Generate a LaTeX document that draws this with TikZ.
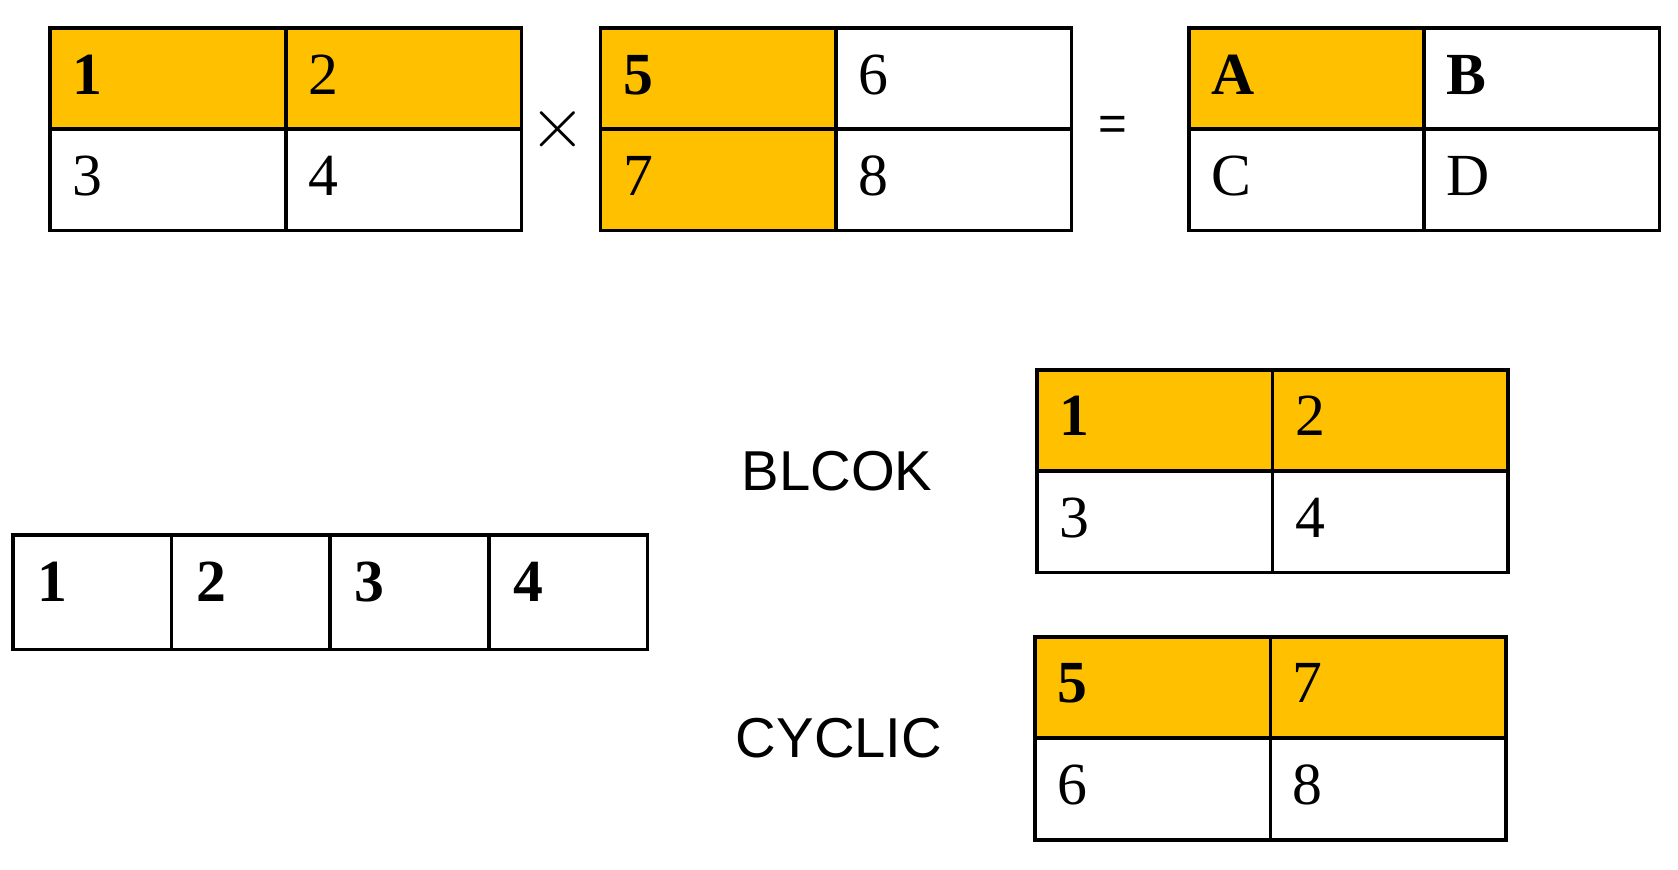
\documentclass[tikz,border=0pt]{standalone}
\usepackage{fontspec}
\setmainfont{Liberation Serif}
\newfontfamily\labelsans{Liberation Sans}
\definecolor{cellorange}{HTML}{FFC000}
\begin{document}
\begin{tikzpicture}[
  cellbox/.style={draw=black, line width=1pt, inner sep=0pt, outer sep=0pt,
    minimum width=2.355cm, minimum height=1.012cm},
  rowbox/.style={draw=black, line width=1pt, inner sep=0pt, outer sep=0pt,
    minimum width=1.587cm, minimum height=1.145cm},
  hl/.style={fill=cellorange},
  num/.style={anchor=base west, inner sep=0pt, font=\fontsize{17}{20}\selectfont},
  word/.style={inner sep=0pt, font=\labelsans\fontsize{16}{19}\selectfont},
]
\useasboundingbox (0,0) rectangle (16.78,-8.70);

% Matrix 1
\node[cellbox,hl] (m1a) at (1.680,-0.787) {};
\node[cellbox,hl] (m1b) at (4.035,-0.787) {};
\node[cellbox] (m1c) at (1.680,-1.798) {};
\node[cellbox] (m1d) at (4.035,-1.798) {};
\node[num] (t1a) at ([xshift=0.22cm,yshift=-0.66cm]m1a.north west) {\textbf{1}};
\node[num] (t1b) at ([xshift=0.22cm,yshift=-0.66cm]m1b.north west) {2};
\node[num] (t1c) at ([xshift=0.22cm,yshift=-0.66cm]m1c.north west) {3};
\node[num] (t1d) at ([xshift=0.22cm,yshift=-0.66cm]m1d.north west) {4};

\node[inner sep=0pt, font=\fontsize{22}{26}\selectfont] (times) at (5.576,-1.29) {$\times$};

% Matrix 2
\node[cellbox,hl] (m2a) at (7.181,-0.787) {};
\node[cellbox] (m2b) at (9.536,-0.787) {};
\node[cellbox,hl] (m2c) at (7.181,-1.798) {};
\node[cellbox] (m2d) at (9.536,-1.798) {};
\node[num] (t2a) at ([xshift=0.22cm,yshift=-0.66cm]m2a.north west) {\textbf{5}};
\node[num] (t2b) at ([xshift=0.22cm,yshift=-0.66cm]m2b.north west) {6};
\node[num] (t2c) at ([xshift=0.22cm,yshift=-0.66cm]m2c.north west) {7};
\node[num] (t2d) at ([xshift=0.22cm,yshift=-0.66cm]m2d.north west) {8};

\node[inner sep=0pt, font=\labelsans\fontsize{14}{17}\selectfont] (eq) at (11.13,-1.284) {=};

% Matrix 3
\node[cellbox,hl] (m3a) at (13.067,-0.787) {};
\node[cellbox] (m3b) at (15.416,-0.787) {};
\node[cellbox] (m3c) at (13.067,-1.798) {};
\node[cellbox] (m3d) at (15.416,-1.798) {};
\node[num] (t3a) at ([xshift=0.22cm,yshift=-0.66cm]m3a.north west) {\textbf{A}};
\node[num] (t3b) at ([xshift=0.22cm,yshift=-0.66cm]m3b.north west) {\textbf{B}};
\node[num] (t3c) at ([xshift=0.22cm,yshift=-0.66cm]m3c.north west) {C};
\node[num] (t3d) at ([xshift=0.22cm,yshift=-0.66cm]m3d.north west) {D};

% Row of four
\node[rowbox] (r1) at (0.9215,-5.9235) {};
\node[rowbox] (r2) at (2.5085,-5.9235) {};
\node[rowbox] (r3) at (4.0955,-5.9235) {};
\node[rowbox] (r4) at (5.6825,-5.9235) {};
\node[num] (tr1) at ([xshift=0.24cm,yshift=-0.66cm]r1.north west) {\textbf{1}};
\node[num] (tr2) at ([xshift=0.24cm,yshift=-0.66cm]r2.north west) {\textbf{2}};
\node[num] (tr3) at ([xshift=0.24cm,yshift=-0.66cm]r3.north west) {\textbf{3}};
\node[num] (tr4) at ([xshift=0.24cm,yshift=-0.66cm]r4.north west) {\textbf{4}};

% BLCOK
\node[word] (blcok) at (8.37,-4.71) {BLCOK};
\node[cellbox,hl] (m4a) at (11.548,-4.206) {};
\node[cellbox,hl] (m4b) at (13.903,-4.206) {};
\node[cellbox] (m4c) at (11.548,-5.218) {};
\node[cellbox] (m4d) at (13.903,-5.218) {};
\node[num] (t4a) at ([xshift=0.22cm,yshift=-0.66cm]m4a.north west) {\textbf{1}};
\node[num] (t4b) at ([xshift=0.22cm,yshift=-0.66cm]m4b.north west) {2};
\node[num] (t4c) at ([xshift=0.22cm,yshift=-0.66cm]m4c.north west) {3};
\node[num] (t4d) at ([xshift=0.22cm,yshift=-0.66cm]m4d.north west) {4};

% CYCLIC
\node[word] (cyclic) at (8.39,-7.38) {CYCLIC};
\node[cellbox,hl] (m5a) at (11.525,-6.876) {};
\node[cellbox,hl] (m5b) at (13.880,-6.876) {};
\node[cellbox] (m5c) at (11.525,-7.893) {};
\node[cellbox] (m5d) at (13.880,-7.893) {};
\node[num] (t5a) at ([xshift=0.22cm,yshift=-0.66cm]m5a.north west) {\textbf{5}};
\node[num] (t5b) at ([xshift=0.22cm,yshift=-0.66cm]m5b.north west) {7};
\node[num] (t5c) at ([xshift=0.22cm,yshift=-0.66cm]m5c.north west) {6};
\node[num] (t5d) at ([xshift=0.22cm,yshift=-0.66cm]m5d.north west) {8};
\end{tikzpicture}
\end{document}
